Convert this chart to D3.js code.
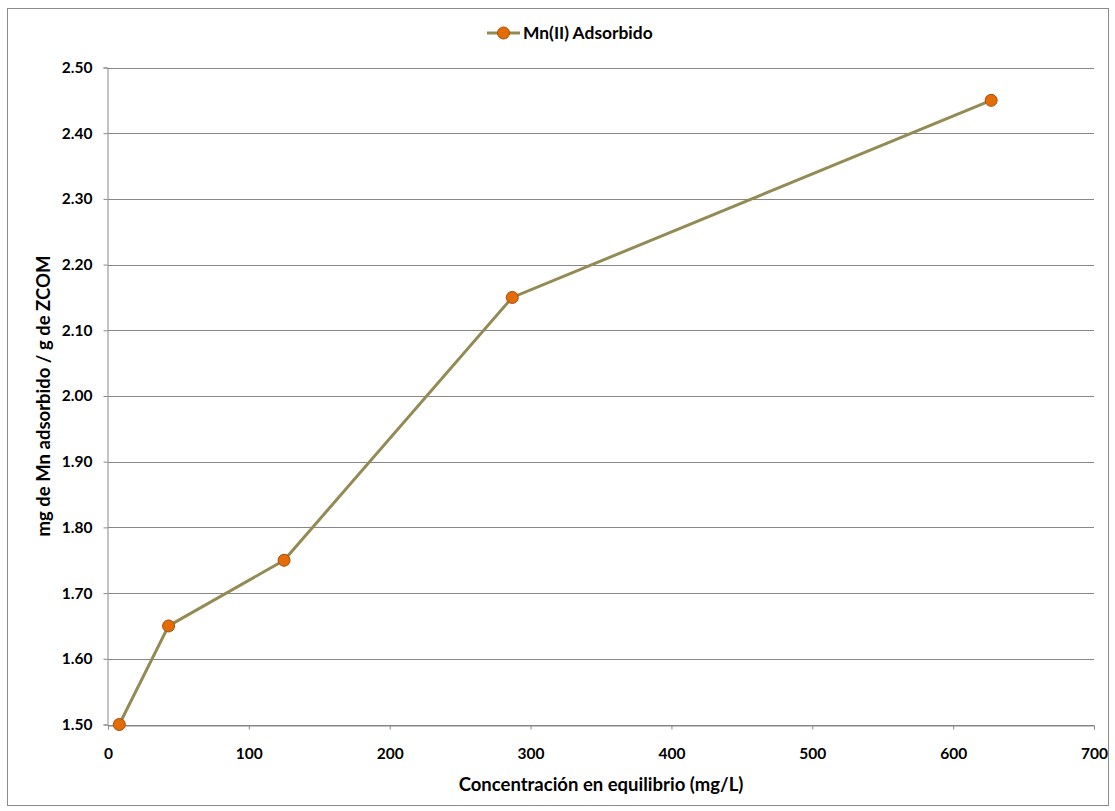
<!DOCTYPE html>
<html>
<head>
<meta charset="utf-8">
<script src="https://cdn.jsdelivr.net/npm/d3@7"></script>
<style>
  body { margin: 0; background: #fff; }
  text { font-family: Lato, "Open Sans", sans-serif; font-weight: bold; fill: #000; }
</style>
</head>
<body>
<svg id="chart" width="1115" height="811"></svg>
<script>
// data
const seriesName = 'Mn(II) Adsorbido'
const concentracion = [8, 43, 125, 287, 627]
const adsorbido = [1.50, 1.65, 1.75, 2.15, 2.45]
const xTicks = [0, 100, 200, 300, 400, 500, 600, 700]
const yTicks = [1.5, 1.6, 1.7, 1.8, 1.9, 2.0, 2.1, 2.2, 2.3, 2.4, 2.5]

const W = 1115, H = 811
const margin = { left: 108, right: 21, top: 67.5, bottom: 86.5 }
const lineColor = '#948a54'
const markerFill = '#e36c09'
const markerStroke = '#a34f08'
const gridColor = '#878787'

const svg = d3.select('#chart')

// outer chart border
svg.append('rect')
  .attr('x', 7.5).attr('y', 8.5)
  .attr('width', 1101).attr('height', 797)
  .attr('fill', '#fff').attr('stroke', '#8c8c8c')

const x = d3.scaleLinear().domain([0, 700]).range([margin.left, W - margin.right])
const y = d3.scaleLinear().domain([1.5, 2.5]).range([H - margin.bottom, margin.top])

// gridlines
svg.append('g')
  .selectAll('line')
  .data(yTicks)
  .join('line')
  .attr('x1', x(0)).attr('x2', x(700))
  .attr('y1', d => Math.round(y(d)) + 0.5).attr('y2', d => Math.round(y(d)) + 0.5)
  .attr('stroke', gridColor)

// axes
const xAxis = svg.append('g')
  .attr('transform', `translate(0,${Math.round(y(1.5)) + 0.5})`)
  .call(d3.axisBottom(x).tickValues(xTicks).tickSize(4).tickPadding(18).tickFormat(d3.format('d')))
const yAxis = svg.append('g')
  .attr('transform', `translate(${Math.round(x(0)) - 0.5},0)`)
  .call(d3.axisLeft(y).tickValues(yTicks).tickSize(4).tickPadding(11).tickFormat(d3.format('.2f')))

;[xAxis, yAxis].forEach(g => {
  g.select('.domain').attr('stroke', gridColor)
  g.selectAll('.tick line').attr('stroke', gridColor)
  g.selectAll('.tick text').style('font-size', '15.5px').style('font-family', 'Lato, sans-serif').style('font-weight', 'bold')
})

// series line + markers
const pts = concentracion.map((c, i) => ({ c, v: adsorbido[i] }))
svg.append('path')
  .datum(pts)
  .attr('fill', 'none')
  .attr('stroke', lineColor)
  .attr('stroke-width', 3)
  .attr('d', d3.line().x(d => x(d.c)).y(d => y(d.v)))

svg.append('g')
  .selectAll('circle')
  .data(pts)
  .join('circle')
  .attr('cx', d => x(d.c)).attr('cy', d => y(d.v))
  .attr('r', 6)
  .attr('fill', markerFill)
  .attr('stroke', markerStroke)
  .attr('stroke-width', 1)

// axis titles
svg.append('text')
  .attr('x', (x(0) + x(700)) / 2).attr('y', 791)
  .attr('text-anchor', 'middle')
  .style('font-size', '18.5px')
  .text('Concentración en equilibrio (mg/L)')

svg.append('text')
  .attr('transform', `translate(50,${(y(1.5) + y(2.5)) / 2}) rotate(-90)`)
  .attr('text-anchor', 'middle')
  .style('font-size', '18.5px')
  .text('mg de Mn adsorbido / g de ZCOM')

// legend
const legend = svg.append('g').attr('transform', 'translate(487,33)')
legend.append('line')
  .attr('x1', 0).attr('x2', 33).attr('y1', 0).attr('y2', 0)
  .attr('stroke', lineColor).attr('stroke-width', 3)
legend.append('circle')
  .attr('cx', 16.5).attr('cy', 0).attr('r', 6)
  .attr('fill', markerFill).attr('stroke', markerStroke)
legend.append('text')
  .attr('x', 36).attr('y', 6)
  .style('font-size', '17.4px')
  .text(seriesName)
</script>
</body>
</html>
